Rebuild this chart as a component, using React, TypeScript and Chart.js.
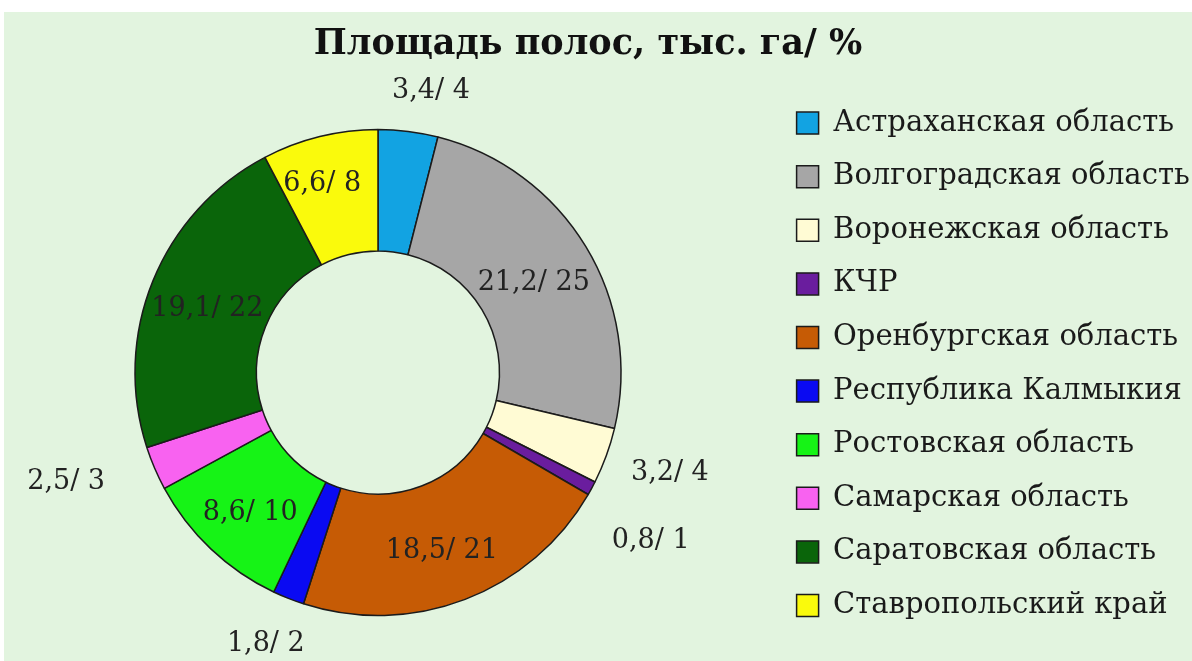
import React, { useEffect, useRef } from "react";
import { Chart, registerables } from "chart.js";

Chart.register(...registerables);

const chartTitle = "Площадь полос, тыс. га/ %";

const regions = [
  "Астраханская область",
  "Волгоградская область",
  "Воронежская область",
  "КЧР",
  "Оренбургская область",
  "Республика Калмыкия",
  "Ростовская область",
  "Самарская область",
  "Саратовская область",
  "Ставропольский край",
];

// area, thousand ha
const areas = [3.4, 21.2, 3.2, 0.8, 18.5, 1.8, 8.6, 2.5, 19.1, 6.6];
// share, %
const percents = [4, 25, 4, 1, 21, 2, 10, 3, 22, 8];

const colors = [
  "#12a3e2",
  "#a6a6a6",
  "#fffbd4",
  "#6a1d9e",
  "#c65b05",
  "#0a0af2",
  "#16f316",
  "#f862f0",
  "#0a650a",
  "#fafa0c",
];

// label placement (styling): radius factor relative to outer radius, angle shift in degrees
const labelRadius = [1.18, 0.74, 1.27, 1.32, 0.78, 1.21, 0.78, 1.36, 0.75, 0.81];
const labelAngleShift = [3.5, 1.2, -1.1, 3.3, 1.3, 0.8, -1.1, 3.9, -1.6, -2.6];

const fmt = (v: number) => String(v).replace(".", ",");

const sliceLabels = {
  id: "sliceLabels",
  afterDatasetsDraw(chart: any) {
    const meta = chart.getDatasetMeta(0);
    const ctx = chart.ctx;
    ctx.save();
    ctx.font = '27px "DejaVu Serif"';
    ctx.fillStyle = "#222222";
    ctx.textAlign = "center";
    ctx.textBaseline = "middle";
    meta.data.forEach((arc: any, i: number) => {
      const { x, y, startAngle, endAngle, outerRadius } = arc.getProps(
        ["x", "y", "startAngle", "endAngle", "outerRadius"],
        true
      );
      const a = (startAngle + endAngle) / 2 + (labelAngleShift[i] * Math.PI) / 180;
      const r = outerRadius * labelRadius[i];
      const text = fmt(areas[i]) + "/ " + percents[i];
      ctx.fillText(text, x + Math.cos(a) * r, y + Math.sin(a) * r);
    });
    ctx.restore();
  },
};

export default function App() {
  const canvasRef = useRef<HTMLCanvasElement | null>(null);

  useEffect(() => {
    if (!canvasRef.current) return;
    const chart = new Chart(canvasRef.current, {
      type: "doughnut",
      data: {
        labels: regions,
        datasets: [
          {
            data: areas,
            backgroundColor: colors,
            borderColor: "#1b1b1b",
            borderWidth: 1.5,
          },
        ],
      },
      options: {
        responsive: true,
        maintainAspectRatio: false,
        animation: false,
        cutout: "50%",
        radius: 243,
        layout: { padding: 0 },
        plugins: {
          title: {
            display: true,
            text: chartTitle,
            color: "#111111",
            font: { family: "DejaVu Serif", size: 35, weight: "bold", lineHeight: 1.2 },
            padding: { top: 12, bottom: 18 },
          },
          legend: {
            position: "right",
            align: "start",
            fullSize: false,
            maxWidth: 420,
            labels: {
              color: "#1a1a1a",
              font: { family: "DejaVu Serif", size: 29 },
              boxWidth: 22,
              boxHeight: 22,
              padding: 24.6,
            },
          },
          tooltip: { enabled: false },
        },
      },
      plugins: [sliceLabels],
    });
    return () => chart.destroy();
  }, []);

  return (
    <div
      style={{
        position: "fixed",
        left: 0,
        top: 0,
        width: 1192,
        height: 661,
        background: "#ffffff",
        overflow: "hidden",
      }}
    >
      <div
        style={{
          position: "absolute",
          left: 4,
          top: 12,
          width: 1188,
          height: 649,
          background: "#e2f4df",
        }}
      />
      <div
        style={{
          position: "absolute",
          left: -16,
          top: 12,
          width: 1208,
          height: 649,
        }}
      >
        <canvas ref={canvasRef} />
      </div>
    </div>
  );
}
